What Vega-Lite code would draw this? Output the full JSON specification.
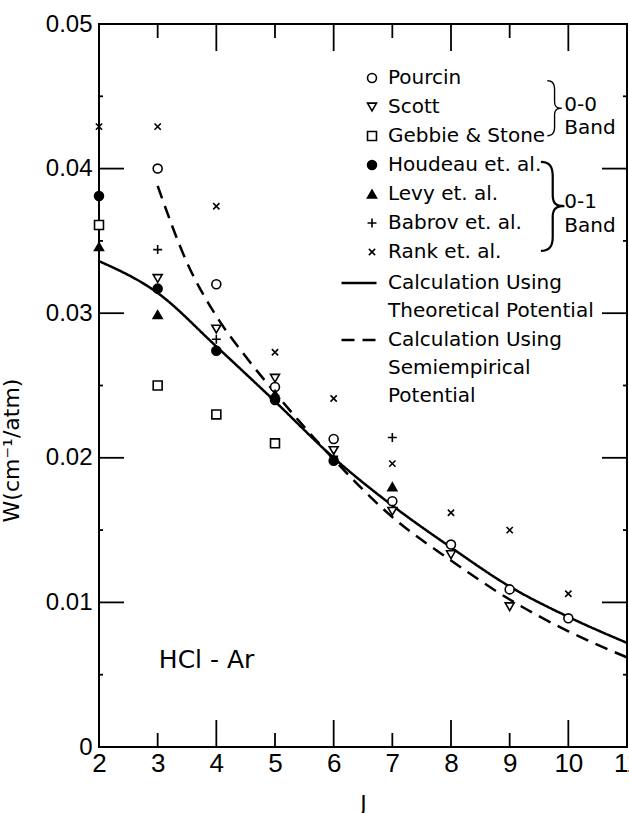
{
  "$schema": "https://vega.github.io/schema/vega-lite/v6.json",
  "width": 528,
  "height": 723,
  "autosize": {"type": "none"},
  "padding": {"left": 99, "top": 24, "right": 2, "bottom": 66},
  "background": "white",
  "config": {
    "view": {"stroke": "black", "strokeWidth": 2},
    "font": "DejaVu Sans",
    "style": {"guide-label": {"lineHeight": 28}},
    "axis": {"domain": false, "grid": false, "ticks": false}
  },
  "datasets": {
    "obs": [
      {"source": "Pourcin", "J": 3, "W": 0.0400},
      {"source": "Pourcin", "J": 4, "W": 0.0320},
      {"source": "Pourcin", "J": 5, "W": 0.0249},
      {"source": "Pourcin", "J": 6, "W": 0.0213},
      {"source": "Pourcin", "J": 7, "W": 0.0170},
      {"source": "Pourcin", "J": 8, "W": 0.0140},
      {"source": "Pourcin", "J": 9, "W": 0.0109},
      {"source": "Pourcin", "J": 10, "W": 0.0089},
      {"source": "Scott", "J": 3, "W": 0.0324},
      {"source": "Scott", "J": 4, "W": 0.0289},
      {"source": "Scott", "J": 5, "W": 0.0255},
      {"source": "Scott", "J": 6, "W": 0.0205},
      {"source": "Scott", "J": 7, "W": 0.0163},
      {"source": "Scott", "J": 8, "W": 0.0133},
      {"source": "Scott", "J": 9, "W": 0.0097},
      {"source": "Gebbie & Stone", "J": 2, "W": 0.0361},
      {"source": "Gebbie & Stone", "J": 3, "W": 0.0250},
      {"source": "Gebbie & Stone", "J": 4, "W": 0.0230},
      {"source": "Gebbie & Stone", "J": 5, "W": 0.0210},
      {"source": "Houdeau et. al.", "J": 2, "W": 0.0381},
      {"source": "Houdeau et. al.", "J": 3, "W": 0.0317},
      {"source": "Houdeau et. al.", "J": 4, "W": 0.0274},
      {"source": "Houdeau et. al.", "J": 5, "W": 0.0240},
      {"source": "Houdeau et. al.", "J": 6, "W": 0.0198},
      {"source": "Levy et. al.", "J": 2, "W": 0.0346},
      {"source": "Levy et. al.", "J": 3, "W": 0.0299},
      {"source": "Levy et. al.", "J": 5, "W": 0.0244},
      {"source": "Levy et. al.", "J": 7, "W": 0.0180},
      {"source": "Babrov et. al.", "J": 3, "W": 0.0344},
      {"source": "Babrov et. al.", "J": 4, "W": 0.0282},
      {"source": "Babrov et. al.", "J": 5, "W": 0.0243},
      {"source": "Babrov et. al.", "J": 6, "W": 0.0201},
      {"source": "Babrov et. al.", "J": 7, "W": 0.0214},
      {"source": "Rank et. al.", "J": 2, "W": 0.0429},
      {"source": "Rank et. al.", "J": 3, "W": 0.0429},
      {"source": "Rank et. al.", "J": 4, "W": 0.0374},
      {"source": "Rank et. al.", "J": 5, "W": 0.0273},
      {"source": "Rank et. al.", "J": 6, "W": 0.0241},
      {"source": "Rank et. al.", "J": 7, "W": 0.0196},
      {"source": "Rank et. al.", "J": 8, "W": 0.0162},
      {"source": "Rank et. al.", "J": 9, "W": 0.0150},
      {"source": "Rank et. al.", "J": 10, "W": 0.0106}
    ],
    "calc": [
      {"calc": "Theoretical", "J": 2, "W": 0.0336},
      {"calc": "Theoretical", "J": 3, "W": 0.0314},
      {"calc": "Theoretical", "J": 4, "W": 0.0277},
      {"calc": "Theoretical", "J": 5, "W": 0.0239},
      {"calc": "Theoretical", "J": 6, "W": 0.0200},
      {"calc": "Theoretical", "J": 7, "W": 0.0167},
      {"calc": "Theoretical", "J": 8, "W": 0.0138},
      {"calc": "Theoretical", "J": 9, "W": 0.0111},
      {"calc": "Theoretical", "J": 10, "W": 0.0090},
      {"calc": "Theoretical", "J": 11, "W": 0.0072},
      {"calc": "Semiempirical", "J": 3, "W": 0.0388},
      {"calc": "Semiempirical", "J": 3.5, "W": 0.0335},
      {"calc": "Semiempirical", "J": 4, "W": 0.0298},
      {"calc": "Semiempirical", "J": 4.5, "W": 0.0270},
      {"calc": "Semiempirical", "J": 5, "W": 0.0245},
      {"calc": "Semiempirical", "J": 6, "W": 0.0199},
      {"calc": "Semiempirical", "J": 7, "W": 0.0159},
      {"calc": "Semiempirical", "J": 8, "W": 0.0129},
      {"calc": "Semiempirical", "J": 9, "W": 0.0102},
      {"calc": "Semiempirical", "J": 10, "W": 0.0080},
      {"calc": "Semiempirical", "J": 11, "W": 0.0062}
    ],
    "xmajor": [{"J": 4}, {"J": 6}, {"J": 8}, {"J": 10}],
    "xminor": [{"J": 3}, {"J": 5}, {"J": 7}, {"J": 9}],
    "ymajor": [{"W": 0.01}, {"W": 0.02}, {"W": 0.03}, {"W": 0.04}],
    "yminor": [{"W": 0.005}, {"W": 0.015}, {"W": 0.025}, {"W": 0.035}, {"W": 0.045}],
    "notes": [
      {"kind": "brace1", "text": "}", "J": 9.77, "W": 0.0441},
      {"kind": "brace2", "text": "}", "J": 9.74, "W": 0.0373},
      {"kind": "band", "text": "0-0", "J": 9.93, "W": 0.0444},
      {"kind": "band", "text": "Band", "J": 9.93, "W": 0.0428},
      {"kind": "band", "text": "0-1", "J": 9.93, "W": 0.0377},
      {"kind": "band", "text": "Band", "J": 9.93, "W": 0.0360},
      {"kind": "system", "text": "HCl - Ar", "J": 3.02, "W": 0.0060}
    ]
  },
  "resolve": {"axis": {"x": "independent", "y": "independent"}},
  "layer": [
    {
      "data": {"name": "calc"},
      "mark": {"type": "line", "interpolate": "monotone", "color": "black", "strokeWidth": 2.5},
      "encoding": {
        "x": {
          "field": "J", "type": "quantitative",
          "scale": {"domain": [2, 11], "nice": false, "zero": false},
          "axis": {
            "orient": "bottom", "values": [2, 3, 4, 5, 6, 7, 8, 9, 10, 11],
            "labelPadding": 3,
            "labelFont": "Liberation Sans", "labelFontSize": 26,
            "labelColor": "black", "labelFlush": false, "labelOverlap": false,
            "title": "J", "titleFont": "DejaVu Sans", "titleFontSize": 22, "titleFontWeight": "normal",
            "titleColor": "black", "titleY": 56, "titleBaseline": "middle"
          }
        },
        "y": {
          "field": "W", "type": "quantitative",
          "scale": {"domain": [0, 0.05], "nice": false},
          "axis": {
            "orient": "left",
            "values": [0, 0.01, 0.02, 0.03, 0.04, 0.05],
            "labelPadding": 7,
            "labelExpr": "datum.value == 0 ? '0' : format(datum.value, '.2f')",
            "labelFont": "Liberation Sans", "labelFontSize": 24,
            "labelColor": "black", "labelFlush": false, "labelOverlap": false,
            "title": "W(cm⁻¹/atm)", "titleFont": "DejaVu Sans", "titleFontSize": 22, "titleFontWeight": "normal",
            "titleColor": "black", "titleX": -76, "titleY": 426
          }
        },
        "strokeDash": {
          "field": "calc", "type": "nominal",
          "scale": {"domain": ["Theoretical", "Semiempirical"], "range": [[1, 0], [13, 8]]},
          "legend": {
            "orient": "none", "legendX": 241, "legendY": 240, "title": null, "padding": 0,
            "symbolType": "stroke", "symbolSize": 1225, "symbolStrokeWidth": 2.5, "symbolStrokeColor": "black",
            "labelExpr": "datum.label == 'Theoretical' ? ['Calculation Using', 'Theoretical Potential'] : ['Calculation Using', 'Semiempirical', 'Potential']",
            "labelFont": "DejaVu Sans", "labelFontSize": 20, "labelColor": "black", "labelOffset": 10,
            "labelLimit": 400, "rowPadding": 0
          }
        }
      }
    },
    {
      "data": {"name": "xmajor"},
      "mark": {"type": "rule", "color": "black", "strokeWidth": 1.8},
      "encoding": {
        "x": {"field": "J", "type": "quantitative", "axis": null},
        "y": {"datum": 0, "type": "quantitative", "axis": null},
        "y2": {"datum": 0.00187}
      }
    },
    {
      "data": {"name": "xmajor"},
      "mark": {"type": "rule", "color": "black", "strokeWidth": 1.8},
      "encoding": {
        "x": {"field": "J", "type": "quantitative", "axis": null},
        "y": {"datum": 0.05, "type": "quantitative", "axis": null},
        "y2": {"datum": 0.04813}
      }
    },
    {
      "data": {"name": "xminor"},
      "mark": {"type": "rule", "color": "black", "strokeWidth": 1.8},
      "encoding": {
        "x": {"field": "J", "type": "quantitative", "axis": null},
        "y": {"datum": 0, "type": "quantitative", "axis": null},
        "y2": {"datum": 0.00097}
      }
    },
    {
      "data": {"name": "xminor"},
      "mark": {"type": "rule", "color": "black", "strokeWidth": 1.8},
      "encoding": {
        "x": {"field": "J", "type": "quantitative", "axis": null},
        "y": {"datum": 0.05, "type": "quantitative", "axis": null},
        "y2": {"datum": 0.04903}
      }
    },
    {
      "data": {"name": "ymajor"},
      "mark": {"type": "rule", "color": "black", "strokeWidth": 1.8},
      "encoding": {
        "y": {"field": "W", "type": "quantitative", "axis": null},
        "x": {"datum": 2, "type": "quantitative", "axis": null},
        "x2": {"datum": 2.426}
      }
    },
    {
      "data": {"name": "ymajor"},
      "mark": {"type": "rule", "color": "black", "strokeWidth": 1.8},
      "encoding": {
        "y": {"field": "W", "type": "quantitative", "axis": null},
        "x": {"datum": 11, "type": "quantitative", "axis": null},
        "x2": {"datum": 10.574}
      }
    },
    {
      "data": {"name": "yminor"},
      "mark": {"type": "rule", "color": "black", "strokeWidth": 1.8},
      "encoding": {
        "y": {"field": "W", "type": "quantitative", "axis": null},
        "x": {"datum": 2, "type": "quantitative", "axis": null},
        "x2": {"datum": 2.068}
      }
    },
    {
      "data": {"name": "yminor"},
      "mark": {"type": "rule", "color": "black", "strokeWidth": 1.8},
      "encoding": {
        "y": {"field": "W", "type": "quantitative", "axis": null},
        "x": {"datum": 11, "type": "quantitative", "axis": null},
        "x2": {"datum": 10.932}
      }
    },
    {
      "data": {"name": "obs"},
      "mark": {"type": "point", "filled": false, "strokeWidth": 1.6, "size": 80, "opacity": 1},
      "encoding": {
        "x": {"field": "J", "type": "quantitative", "axis": null},
        "y": {"field": "W", "type": "quantitative", "axis": null},
        "shape": {
          "field": "source", "type": "nominal",
          "scale": {
            "domain": ["Pourcin", "Scott", "Gebbie & Stone", "Houdeau et. al.", "Levy et. al.", "Babrov et. al.", "Rank et. al."],
            "range": ["circle", "triangle-down", "square", "circle", "triangle-up", "M-1,0L1,0M0,-1L0,1", "M-0.7,-0.7L0.7,0.7M-0.7,0.7L0.7,-0.7"]
          },
          "legend": {
            "orient": "none", "legendX": 263, "legendY": 44, "title": null, "padding": 0,
            "symbolSize": 80, "symbolStrokeWidth": 1.6,
            "labelFont": "DejaVu Sans", "labelFontSize": 20, "labelColor": "black", "labelOffset": 6,
            "labelLimit": 400, "rowPadding": 9
          }
        },
        "fill": {
          "field": "source", "type": "nominal",
          "scale": {
            "domain": ["Pourcin", "Scott", "Gebbie & Stone", "Houdeau et. al.", "Levy et. al.", "Babrov et. al.", "Rank et. al."],
            "range": ["white", "white", "white", "black", "black", "transparent", "transparent"]
          },
          "legend": {
            "orient": "none", "legendX": 263, "legendY": 44, "title": null, "padding": 0,
            "symbolSize": 80, "symbolStrokeWidth": 1.6,
            "labelFont": "DejaVu Sans", "labelFontSize": 20, "labelColor": "black", "labelOffset": 6,
            "labelLimit": 400, "rowPadding": 9
          }
        },
        "stroke": {
          "field": "source", "type": "nominal",
          "scale": {
            "domain": ["Pourcin", "Scott", "Gebbie & Stone", "Houdeau et. al.", "Levy et. al.", "Babrov et. al.", "Rank et. al."],
            "range": ["black", "black", "black", "black", "black", "black", "black"]
          },
          "legend": {
            "orient": "none", "legendX": 263, "legendY": 44, "title": null, "padding": 0,
            "symbolSize": 80, "symbolStrokeWidth": 1.6,
            "labelFont": "DejaVu Sans", "labelFontSize": 20, "labelColor": "black", "labelOffset": 6,
            "labelLimit": 400, "rowPadding": 9
          }
        }
      }
    },
    {
      "data": {"name": "notes"},
      "transform": [{"filter": "datum.kind == 'band'"}],
      "mark": {"type": "text", "align": "left", "baseline": "middle", "font": "DejaVu Sans", "fontSize": 20, "color": "black"},
      "encoding": {
        "x": {"field": "J", "type": "quantitative", "axis": null},
        "y": {"field": "W", "type": "quantitative", "axis": null},
        "text": {"field": "text"}
      }
    },
    {
      "data": {"name": "notes"},
      "transform": [{"filter": "datum.kind == 'system'"}],
      "mark": {"type": "text", "align": "left", "baseline": "middle", "font": "DejaVu Sans", "fontSize": 25, "color": "black"},
      "encoding": {
        "x": {"field": "J", "type": "quantitative", "axis": null},
        "y": {"field": "W", "type": "quantitative", "axis": null},
        "text": {"field": "text"}
      }
    },
    {
      "data": {"name": "notes"},
      "transform": [{"filter": "datum.kind == 'brace1'"}],
      "mark": {"type": "text", "align": "center", "baseline": "middle", "font": "Inter", "fontWeight": 100, "fontSize": 62, "color": "black"},
      "encoding": {
        "x": {"field": "J", "type": "quantitative", "axis": null},
        "y": {"field": "W", "type": "quantitative", "axis": null},
        "text": {"field": "text"}
      }
    },
    {
      "data": {"name": "notes"},
      "transform": [{"filter": "datum.kind == 'brace2'"}],
      "mark": {"type": "text", "align": "center", "baseline": "middle", "font": "Inter", "fontWeight": 100, "fontSize": 100, "color": "black"},
      "encoding": {
        "x": {"field": "J", "type": "quantitative", "axis": null},
        "y": {"field": "W", "type": "quantitative", "axis": null},
        "text": {"field": "text"}
      }
    }
  ]
}
